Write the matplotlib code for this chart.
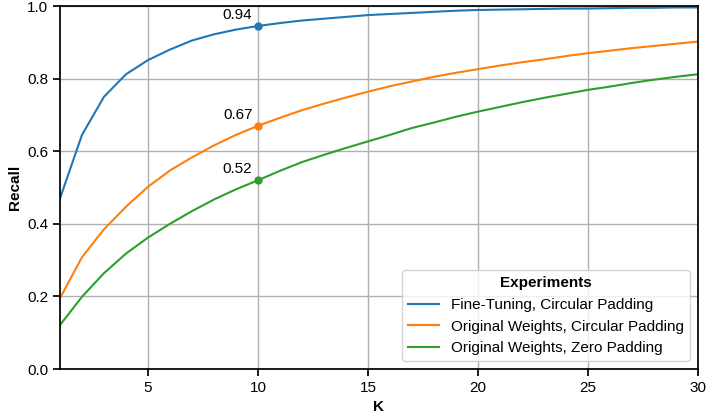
import numpy as np
import matplotlib.pyplot as plt

plt.rcParams['font.family'] = ['Liberation Sans', 'DejaVu Sans']
plt.rcParams['font.size'] = 11

k_values = list(range(1, 31))

fine_tuning_circular = [0.470, 0.645, 0.750, 0.812, 0.851, 0.880, 0.905, 0.922, 0.935, 0.945,
                        0.953, 0.960, 0.965, 0.970, 0.975, 0.978, 0.981, 0.984, 0.987, 0.989,
                        0.990, 0.991, 0.992, 0.993, 0.993, 0.994, 0.995, 0.995, 0.996, 0.996]
original_circular = [0.195, 0.308, 0.385, 0.447, 0.502, 0.547, 0.583, 0.616, 0.645, 0.670,
                     0.692, 0.713, 0.731, 0.748, 0.764, 0.779, 0.792, 0.805, 0.816, 0.826,
                     0.836, 0.845, 0.853, 0.862, 0.870, 0.877, 0.884, 0.890, 0.896, 0.902]
original_zero = [0.121, 0.199, 0.264, 0.318, 0.362, 0.400, 0.435, 0.467, 0.495, 0.520,
                 0.546, 0.570, 0.590, 0.609, 0.627, 0.645, 0.664, 0.679, 0.695, 0.709,
                 0.722, 0.735, 0.747, 0.758, 0.769, 0.778, 0.788, 0.797, 0.805, 0.812]

labels = ["Fine-Tuning, Circular Padding",
          "Original Weights, Circular Padding",
          "Original Weights, Zero Padding"]
colors = ["#1f77b4", "#ff7f0e", "#2ca02c"]
series = [fine_tuning_circular, original_circular, original_zero]
highlight_k = 10

fig = plt.figure(figsize=(7.08, 4.19), dpi=100)
ax = fig.add_axes([60/708, 1-369/419, 638/708, 363/419])

for vals, lab, col in zip(series, labels, colors):
    ax.plot(k_values, vals, color=col, linewidth=1.5, label=lab)
    idx = k_values.index(highlight_k)
    ax.plot(highlight_k, vals[idx], 'o', color=col, markersize=5)
    ax.annotate(f"{vals[idx]:.2f}", (highlight_k, vals[idx]), xytext=(-4, 3),
                textcoords="offset points", ha="right", va="bottom", fontsize=11)

ax.set_xlim(1, 30)
ax.set_ylim(0, 1.0)
ax.set_xticks([5, 10, 15, 20, 25, 30])
ax.set_yticks(np.arange(0, 1.01, 0.2))
ax.grid(True, color="#b0b0b0", linewidth=1)
ax.set_axisbelow(True)
for s in ax.spines.values():
    s.set_linewidth(1.25)
ax.tick_params(width=1.25, length=5)
ax.set_xlabel("K", fontweight="bold")
ax.set_ylabel("Recall", fontweight="bold")

leg = ax.legend(title="Experiments", loc="lower right", fontsize=11, title_fontsize=11)
leg.get_title().set_fontweight("bold")

fig.savefig("out.png", dpi=100)
